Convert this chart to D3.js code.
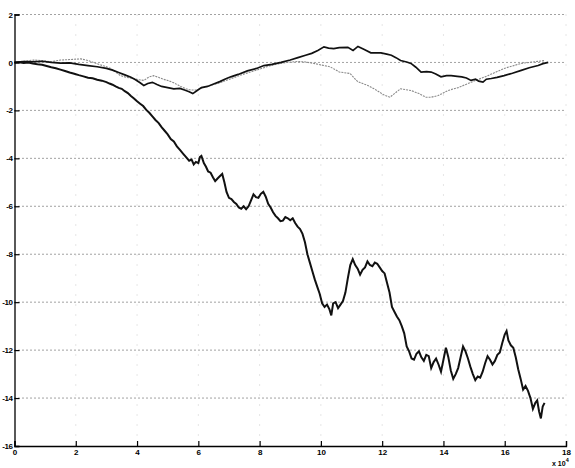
<!DOCTYPE html>
<html><head><meta charset="utf-8">
<script src="https://cdn.jsdelivr.net/npm/d3@7"></script>
<style>body{margin:0;background:#fff}svg{display:block}</style>
</head><body><svg id="c" width="575" height="468"></svg>
<script>
const xTicks = [0,2,4,6,8,10,12,14,16,18];
const yTicks = [2,0,-2,-4,-6,-8,-10,-12,-14,-16];
const seriesDown = [[0,0],[0.15,0.01],[0.3,-0.02],[0.45,0],[0.6,-0.05],[0.75,-0.08],[0.9,-0.1],[1.05,-0.15],[1.2,-0.2],[1.35,-0.24],[1.5,-0.3],[1.65,-0.36],[1.8,-0.42],[1.95,-0.47],[2.1,-0.53],[2.25,-0.58],[2.4,-0.64],[2.55,-0.66],[2.7,-0.72],[2.85,-0.76],[3,-0.82],[3.1,-0.88],[3.2,-0.93],[3.3,-1],[3.4,-1.06],[3.5,-1.1],[3.6,-1.2],[3.7,-1.28],[3.8,-1.4],[3.9,-1.5],[4,-1.62],[4.1,-1.72],[4.2,-1.82],[4.3,-1.98],[4.4,-2.1],[4.5,-2.25],[4.6,-2.4],[4.7,-2.52],[4.8,-2.7],[4.9,-2.85],[5,-3],[5.1,-3.2],[5.2,-3.3],[5.3,-3.5],[5.4,-3.65],[5.5,-3.8],[5.6,-3.95],[5.7,-4.1],[5.78,-4.05],[5.85,-4.25],[5.92,-4.15],[6,-4.2],[6.05,-3.95],[6.1,-3.9],[6.18,-4.2],[6.25,-4.35],[6.32,-4.55],[6.4,-4.6],[6.48,-4.8],[6.55,-4.95],[6.62,-4.85],[6.7,-4.75],[6.78,-4.65],[6.85,-5],[6.92,-5.4],[7,-5.65],[7.08,-5.7],[7.16,-5.82],[7.24,-5.9],[7.32,-6.05],[7.4,-6.1],[7.48,-6],[7.56,-6.12],[7.64,-6],[7.72,-5.75],[7.8,-5.5],[7.88,-5.62],[7.96,-5.65],[8.04,-5.48],[8.12,-5.4],[8.2,-5.6],[8.28,-5.9],[8.36,-6.05],[8.44,-6.25],[8.52,-6.4],[8.6,-6.5],[8.68,-6.62],[8.76,-6.6],[8.84,-6.45],[8.92,-6.5],[9,-6.58],[9.08,-6.5],[9.16,-6.7],[9.24,-6.85],[9.32,-6.95],[9.4,-7.15],[9.48,-7.5],[9.56,-8],[9.64,-8.35],[9.72,-8.7],[9.8,-9.05],[9.88,-9.35],[9.96,-9.65],[10.04,-10.05],[10.12,-10.2],[10.2,-10.1],[10.28,-10.3],[10.34,-10.55],[10.4,-10.05],[10.48,-10],[10.56,-10.25],[10.64,-10.1],[10.72,-9.95],[10.8,-9.6],[10.88,-9],[10.96,-8.45],[11.04,-8.2],[11.12,-8.45],[11.2,-8.6],[11.28,-8.85],[11.36,-8.65],[11.44,-8.55],[11.52,-8.3],[11.6,-8.45],[11.68,-8.5],[11.76,-8.35],[11.84,-8.4],[11.92,-8.55],[12,-8.7],[12.08,-8.8],[12.16,-9.2],[12.24,-9.6],[12.32,-10.2],[12.4,-10.4],[12.48,-10.6],[12.56,-10.75],[12.64,-11],[12.72,-11.3],[12.8,-11.85],[12.88,-12.05],[12.96,-12.35],[13.04,-12.4],[13.12,-12.15],[13.2,-12.05],[13.28,-12.3],[13.36,-12.45],[13.44,-12.2],[13.52,-12.25],[13.6,-12.75],[13.68,-12.5],[13.76,-12.35],[13.84,-12.6],[13.92,-12.9],[14,-12.4],[14.08,-11.9],[14.16,-12.3],[14.24,-12.85],[14.32,-13.2],[14.4,-13],[14.48,-12.75],[14.56,-12.3],[14.64,-11.85],[14.72,-12.05],[14.8,-12.35],[14.88,-12.7],[14.96,-13],[15.04,-13.25],[15.12,-13.1],[15.2,-13.15],[15.28,-12.9],[15.36,-12.55],[15.44,-12.25],[15.52,-12.4],[15.6,-12.6],[15.68,-12.45],[15.76,-12.2],[15.84,-12.1],[15.92,-11.7],[16,-11.35],[16.06,-11.2],[16.12,-11.6],[16.2,-11.8],[16.28,-11.9],[16.36,-12.3],[16.44,-12.8],[16.52,-13.2],[16.6,-13.65],[16.68,-13.5],[16.76,-13.7],[16.84,-14],[16.92,-14.45],[17,-14.2],[17.06,-14.1],[17.12,-14.55],[17.18,-14.85],[17.24,-14.35],[17.3,-14.2]];
const seriesWave = [[0,0],[0.3,0.03],[0.6,0.02],[0.9,0.05],[1.2,0],[1.5,-0.03],[1.8,-0.02],[2.1,-0.08],[2.4,-0.13],[2.7,-0.18],[3,-0.25],[3.2,-0.32],[3.4,-0.42],[3.6,-0.52],[3.8,-0.62],[3.95,-0.72],[4.1,-0.85],[4.22,-0.96],[4.35,-0.88],[4.5,-0.83],[4.65,-0.92],[4.8,-1],[5,-1.05],[5.2,-1.1],[5.4,-1.08],[5.55,-1.15],[5.7,-1.22],[5.82,-1.3],[5.95,-1.18],[6.1,-1.05],[6.3,-1],[6.5,-0.9],[6.7,-0.8],[6.9,-0.68],[7.06,-0.6],[7.3,-0.5],[7.6,-0.35],[7.9,-0.25],[8.14,-0.13],[8.4,-0.08],[8.7,0],[9,0.1],[9.25,0.2],[9.5,0.3],[9.7,0.38],[9.9,0.5],[10.1,0.65],[10.25,0.6],[10.42,0.58],[10.6,0.62],[10.88,0.63],[11.05,0.5],[11.21,0.67],[11.4,0.55],[11.63,0.4],[11.96,0.4],[12.15,0.35],[12.3,0.3],[12.45,0.2],[12.6,0.08],[12.8,0.02],[12.94,-0.04],[13.1,-0.2],[13.27,-0.4],[13.45,-0.38],[13.6,-0.4],[13.75,-0.48],[13.92,-0.6],[14.1,-0.55],[14.25,-0.55],[14.45,-0.58],[14.6,-0.6],[14.75,-0.65],[14.9,-0.75],[15.05,-0.7],[15.15,-0.78],[15.29,-0.82],[15.4,-0.7],[15.56,-0.67],[15.75,-0.62],[15.98,-0.55],[16.25,-0.45],[16.54,-0.33],[16.8,-0.22],[17.09,-0.13],[17.25,-0.05],[17.42,0]];
const seriesGray = [[0,0],[0.3,0.05],[0.62,0.1],[0.9,0.08],[1.2,0.03],[1.5,0.1],[1.8,0.12],[2.16,0.15],[2.4,0.08],[2.58,0],[2.8,-0.1],[3,-0.18],[3.14,-0.25],[3.3,-0.4],[3.46,-0.55],[3.65,-0.62],[3.89,-0.67],[4.05,-0.72],[4.22,-0.75],[4.4,-0.6],[4.54,-0.55],[4.7,-0.62],[4.85,-0.7],[5,-0.75],[5.2,-0.85],[5.42,-1],[5.6,-1.1],[5.75,-1.15],[5.95,-1.15],[6.1,-1.08],[6.4,-0.95],[6.7,-0.85],[7.06,-0.68],[7.4,-0.52],[7.7,-0.4],[8,-0.28],[8.3,-0.15],[8.6,-0.06],[8.9,0],[9.25,0.04],[9.5,0.02],[9.77,-0.04],[10.1,-0.13],[10.3,-0.18],[10.6,-0.4],[10.95,-0.46],[11.2,-0.8],[11.53,-0.96],[11.74,-1.1],[12.05,-1.35],[12.25,-1.45],[12.6,-1.1],[12.94,-1.17],[13.2,-1.3],[13.43,-1.45],[13.6,-1.45],[13.83,-1.38],[14.15,-1.17],[14.48,-1.05],[14.9,-0.83],[15.45,-0.55],[15.98,-0.25],[16.54,-0.04],[17.3,0.08]];

const svg = d3.select("#c");
const L = 14.5, R = 566, T = 14.5, B = 446;
const x = d3.scaleLinear().domain([0,18]).range([L,R]);
const y = d3.scaleLinear().domain([-16,2]).range([B,T]);
const font = "Liberation Sans, Arial, sans-serif";

// grid
svg.append("g").selectAll("line").data(yTicks.filter(d=>d>-16)).join("line")
  .attr("x1",L).attr("x2",R).attr("y1",d=>y(d)).attr("y2",d=>y(d))
  .attr("stroke","#444").attr("stroke-width",1).attr("stroke-dasharray","1,3");
svg.append("g").selectAll("line").data(xTicks.filter(d=>d>0)).join("line")
  .attr("y1",T).attr("y2",B).attr("x1",d=>x(d)).attr("x2",d=>x(d))
  .attr("stroke","#ccc").attr("stroke-width",1).attr("stroke-dasharray","1,9");

const line = d3.line().x(d=>x(d[0])).y(d=>y(d[1]));
svg.append("path").datum(seriesGray).attr("d",line).attr("fill","none")
  .attr("stroke","#8a8a8a").attr("stroke-width",1.1).attr("stroke-dasharray","2,1");
svg.append("path").datum(seriesWave).attr("d",line).attr("fill","none")
  .attr("stroke","#111").attr("stroke-width",1.7);
svg.append("path").datum(seriesDown).attr("d",line).attr("fill","none")
  .attr("stroke","#111").attr("stroke-width",2);

// axes
const gx = svg.append("g").attr("transform",`translate(0,${B})`)
  .call(d3.axisBottom(x).tickValues(xTicks).tickSize(-5).tickPadding(3).tickFormat(d3.format("d")));
const gy = svg.append("g").attr("transform",`translate(${L},0)`)
  .call(d3.axisLeft(y).tickValues(yTicks).tickSize(-5).tickPadding(2).tickFormat(d=>d===0?"0":String(d)));
[gx,gy].forEach(g=>{
  g.select(".domain").attr("stroke","#000").attr("stroke-width",1.3);
  g.selectAll(".tick line").attr("stroke","#000").attr("stroke-width",1.2);
  g.selectAll("text").attr("font-family",font).attr("font-size",8).attr("font-weight","bold").attr("fill","#000");
});
gy.selectAll("text").attr("letter-spacing",-0.4);

const lab = svg.append("text").attr("x",552).attr("y",466).attr("font-family",font)
  .attr("font-size",7).attr("font-weight","bold").text("x 10");
lab.append("tspan").attr("dy",-4).attr("font-size",5.5).text("4");
</script></body></html>
